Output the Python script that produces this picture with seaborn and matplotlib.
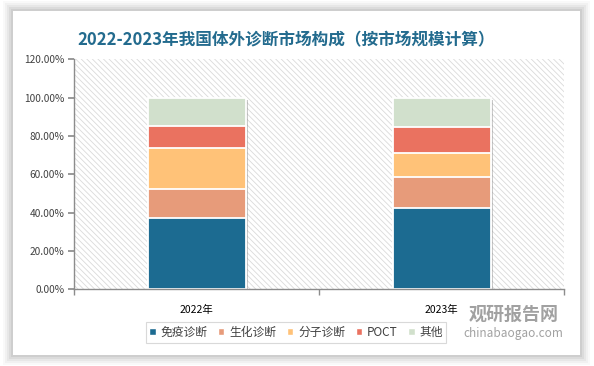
import numpy as np
import pandas as pd
import matplotlib
matplotlib.use("Agg")
import matplotlib.pyplot as plt
import matplotlib.patheffects as pe
from matplotlib.patches import Rectangle
from matplotlib.ticker import FuncFormatter
import seaborn as sns

# data (share of market, %)
years = ["2022年", "2023年"]
segments = ["免疫诊断", "生化诊断", "分子诊断", "POCT", "其他"]
immuno = [37.2, 42.4]
biochem = [15.1, 16.2]
molecular = [21.3, 12.5]
poct = [11.4, 13.4]
other = [15.0, 15.5]

colors = ["#1c6b91", "#e79b7a", "#ffc278", "#ea7260", "#d1e0cc"]

sns.set_theme(style="white")
plt.rcParams["font.family"] = ["Noto Sans CJK SC", "DejaVu Sans"]
plt.rcParams["hatch.linewidth"] = 0.6

fig = plt.figure(figsize=(5.94, 3.66), dpi=100)
fig.patch.set_facecolor("#ffffff")

# card with soft shadow
for i, a in enumerate([0.025, 0.03, 0.04, 0.05, 0.06]):
    d = (5 - i) * 0.0035
    fig.patches.append(Rectangle((13 / 594 - d, 11 / 366 - d * 1.6),
                                 567 / 594 + 2 * d, 344 / 366 + 2 * d * 1.6,
                                 transform=fig.transFigure, facecolor="#000000",
                                 alpha=a, edgecolor="none", zorder=0))
fig.patches.append(Rectangle((13 / 594, 11 / 366), 567 / 594, 344 / 366,
                             transform=fig.transFigure, facecolor="white",
                             edgecolor="none", zorder=1))

ax = fig.add_axes([74 / 594, 1 - 289.3 / 366, 490 / 594, 230 / 366])
ax.set_zorder(2)
ax.patch.set_facecolor("white")

# hatched plot background
ax.add_patch(Rectangle((0, 0), 1, 1, transform=ax.transAxes, facecolor="white",
                       edgecolor="#dadada", hatch="\\\\\\\\\\\\", lw=0, zorder=0))

df = pd.DataFrame({"year": years, "免疫诊断": immuno, "生化诊断": biochem,
                   "分子诊断": molecular, "POCT": poct, "其他": other})
cum = df[segments].cumsum(axis=1) / 100.0

# shadow behind each full stack
sns.barplot(x=df["year"], y=cum["其他"], color="white", width=0.4, ax=ax,
            linewidth=0, zorder=1)
for p in ax.patches[1:]:
    p.set_path_effects([pe.SimplePatchShadow(offset=(1.5, -1.5), shadow_rgbFace="#888888",
                                             alpha=0.45), pe.Normal()])

# stacked layers, drawn from the top total downwards
for seg, c in zip(segments[::-1], colors[::-1]):
    sns.barplot(x=df["year"], y=cum[seg], color=c, width=0.4, ax=ax,
                edgecolor="white", linewidth=1.3, zorder=2, saturation=1)

ax.set_ylim(0, 1.2)
ax.set_xlim(-0.5, 1.5)
ax.set_yticks(np.arange(0, 1.21, 0.2))
ax.yaxis.set_major_formatter(FuncFormatter(lambda v, _: f"{v * 100:.2f}%"))
ax.set_xlabel("")
ax.set_ylabel("")
ax.set_xticks([0, 1])
ax.set_xticklabels(years)
ax.set_xticks([-0.5, 0.5, 1.5], minor=True)

for s in ["top", "right"]:
    ax.spines[s].set_visible(False)
for s in ["left", "bottom"]:
    ax.spines[s].set_color("#8c8c8c")
    ax.spines[s].set_linewidth(1)
ax.tick_params(axis="y", which="major", left=True, length=4, color="#8c8c8c",
               labelsize=7.3, labelcolor="#404040", pad=3)
ax.tick_params(axis="x", which="major", bottom=False, labelsize=7.5,
               labelcolor="#000000", pad=5)
ax.tick_params(axis="x", which="minor", bottom=True, length=4, color="#8c8c8c")

fig.text(0.482, 1 - 40 / 366, "2022-2023年我国体外诊断市场构成（按市场规模计算）",
         ha="center", va="center", fontsize=12, fontweight="bold", color="#236b8e")

handles = [Rectangle((0, 0), 1, 1, facecolor=c) for c in colors]
leg = fig.legend(handles, segments, loc="center", bbox_to_anchor=(296 / 594, 1 - 332.5 / 366),
                 ncol=5, fontsize=8.5, frameon=True, handlelength=0.55, handleheight=0.55,
                 handletextpad=0.4, columnspacing=0.9, borderpad=0.3, fancybox=False,
                 labelcolor="#404040")
leg.get_frame().set_edgecolor("#d0d0d0")
leg.get_frame().set_linewidth(0.8)
leg.set_zorder(3)

# watermark
fig.text(0.865, 1 - 314 / 366, "观研报告网", ha="center", va="center", fontsize=13,
         fontweight="bold", color="#8a8a8a", alpha=0.8, zorder=4)
fig.text(0.865, 1 - 333 / 366, "chinabaogao.com", ha="center", va="center", fontsize=8.5,
         color="#8a8a8a", alpha=0.8, zorder=4)

fig.savefig("out.png", dpi=100)
